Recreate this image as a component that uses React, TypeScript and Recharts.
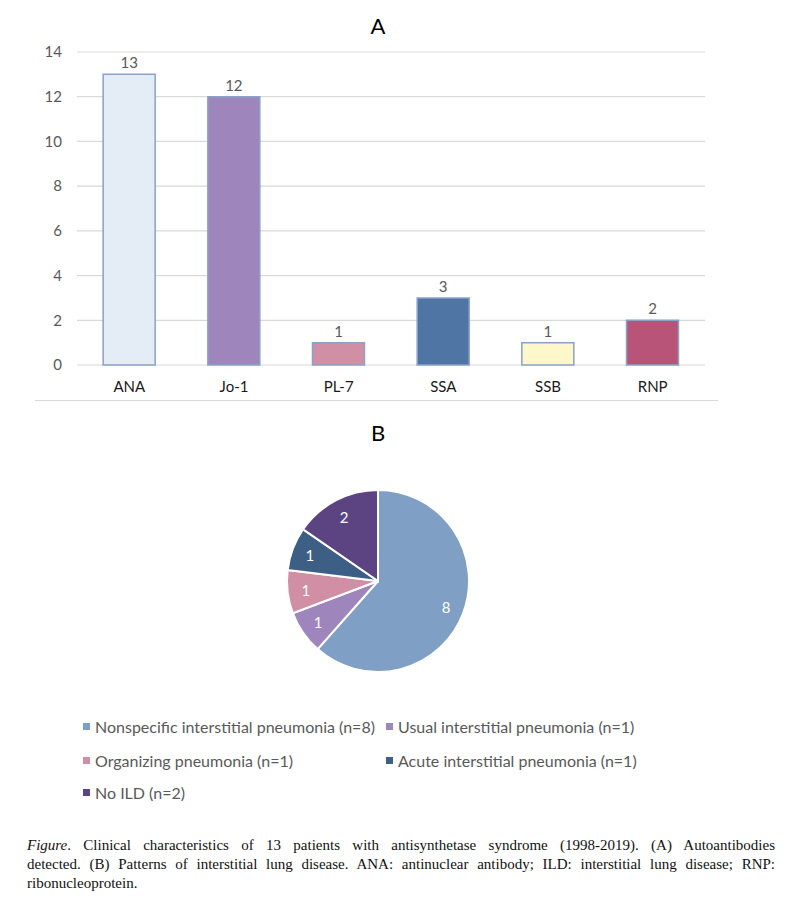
import React from 'react';
import { BarChart, Bar, XAxis, YAxis, CartesianGrid, Cell, LabelList, PieChart, Pie } from 'recharts';

const antibodies = ['ANA', 'Jo-1', 'PL-7', 'SSA', 'SSB', 'RNP'];
const antibodyCounts = [13, 12, 1, 3, 1, 2];
const barColors = ['#E4ECF6', '#9E86BC', '#D08FA5', '#4F75A5', '#FCF8CC', '#B75478'];
const yTicks = [0, 2, 4, 6, 8, 10, 12, 14];

const ildPatterns = [
  'Nonspecific interstitial pneumonia (n=8)',
  'Usual interstitial pneumonia (n=1)',
  'Organizing pneumonia (n=1)',
  'Acute interstitial pneumonia (n=1)',
  'No ILD (n=2)',
];
const ildCounts = [8, 1, 1, 1, 2];
const pieColors = ['#7F9FC4', '#9E86BC', '#D08FA5', '#3D5F86', '#5C4483'];

const captionLines = [
  'Clinical characteristics of 13 patients with antisynthetase syndrome (1998-2019). (A) Autoantibodies',
  'detected. (B) Patterns of interstitial lung disease. ANA: antinuclear antibody; ILD: interstitial lung disease; RNP:',
  'ribonucleoprotein.',
];

const barData = antibodies.map((name, i) => ({ name, value: antibodyCounts[i] }));
const pieData = ildPatterns.map((name, i) => ({ name, value: ildCounts[i] }));

const FONT = 'Lato, "Open Sans", sans-serif';
const RAD = Math.PI / 180;

const renderPieLabel = (props: any) => {
  const { cx, cy, midAngle, outerRadius, value } = props;
  const r = outerRadius * 0.8;
  const x = cx + r * Math.cos(-midAngle * RAD);
  const y = cy + r * Math.sin(-midAngle * RAD);
  return (
    <text x={x} y={y} fill="#FFFFFF" textAnchor="middle" dominantBaseline="central" fontSize={15} fontFamily={FONT}>
      {value}
    </text>
  );
};

const legendPositions = [
  { left: 83, top: 726 },
  { left: 386, top: 726 },
  { left: 83, top: 760 },
  { left: 386, top: 760 },
  { left: 83, top: 792 },
];

export default function App() {
  return (
    <div style={{ position: 'absolute', left: 0, top: 0, width: 802, height: 897, background: '#fff', fontFamily: FONT }}>
      <div style={{ position: 'absolute', left: 328, width: 100, top: 12, textAlign: 'center', fontSize: 22, color: '#000' }}>A</div>
      <div style={{ position: 'absolute', left: 0, top: 0 }}>
        <BarChart width={802} height={400} data={barData} margin={{ top: 52, right: 97, bottom: 0, left: 0 }} barCategoryGap="25%">
          <CartesianGrid vertical={false} stroke="#D9D9D9" strokeWidth={1.2} />
          <YAxis
            width={77}
            domain={[0, 14]}
            ticks={yTicks}
            axisLine={false}
            tickLine={false}
            tickSize={0}
            tickMargin={15}
            tick={{ fill: '#595959', fontSize: 15, fontFamily: FONT }}
          />
          <XAxis
            dataKey="name"
            height={35}
            axisLine={false}
            tickLine={false}
            tickSize={0}
            tickMargin={16}
            tick={{ fill: '#1a1a1a', fontSize: 15, fontFamily: FONT }}
          />
          <Bar dataKey="value" isAnimationActive={false} stroke="#8AA2C8" strokeWidth={1.5}>
            {barData.map((d, i) => (
              <Cell key={d.name} fill={barColors[i]} />
            ))}
            <LabelList dataKey="value" position="top" offset={6} fill="#595959" fontSize={15} fontFamily={FONT} />
          </Bar>
        </BarChart>
      </div>
      <div style={{ position: 'absolute', left: 35, top: 400, width: 683, height: 1, background: '#D9D9D9' }} />
      <div style={{ position: 'absolute', left: 328, width: 100, top: 419, textAlign: 'center', fontSize: 22, color: '#000' }}>B</div>
      <div style={{ position: 'absolute', left: 0, top: 461 }}>
        <PieChart width={802} height={240} margin={{ top: 0, right: 0, bottom: 0, left: 0 }}>
          <Pie
            data={pieData}
            dataKey="value"
            nameKey="name"
            cx={378}
            cy={120}
            outerRadius={91}
            startAngle={90}
            endAngle={-270}
            stroke="#FFFFFF"
            strokeWidth={2}
            label={renderPieLabel}
            labelLine={false}
            isAnimationActive={false}
          >
            {pieData.map((d, i) => (
              <Cell key={d.name} fill={pieColors[i]} />
            ))}
          </Pie>
        </PieChart>
      </div>
      {pieData.map((d, i) => (
        <div
          key={d.name}
          style={{
            position: 'absolute',
            left: legendPositions[i].left,
            top: legendPositions[i].top - 11,
            height: 22,
            display: 'flex',
            alignItems: 'center',
            fontSize: 16,
            color: '#595959',
            whiteSpace: 'nowrap',
          }}
        >
          <span style={{ display: 'inline-block', width: 7, height: 7, background: pieColors[i], marginRight: 5 }} />
          {d.name}
        </div>
      ))}
      <div
        style={{
          position: 'absolute',
          left: 27,
          top: 836,
          width: 748,
          fontFamily: '"Liberation Serif", "DejaVu Serif", serif',
          fontSize: 15,
          lineHeight: '19px',
          color: '#111',
        }}
      >
        {captionLines.map((line, i) => (
          <div key={i} style={{ textAlign: 'justify', textAlignLast: i < 2 ? 'justify' : 'left', whiteSpace: 'nowrap' }}>
            {i === 0 ? <><i>Figure</i>. </> : null}
            {line}
          </div>
        ))}
      </div>
    </div>
  );
}
